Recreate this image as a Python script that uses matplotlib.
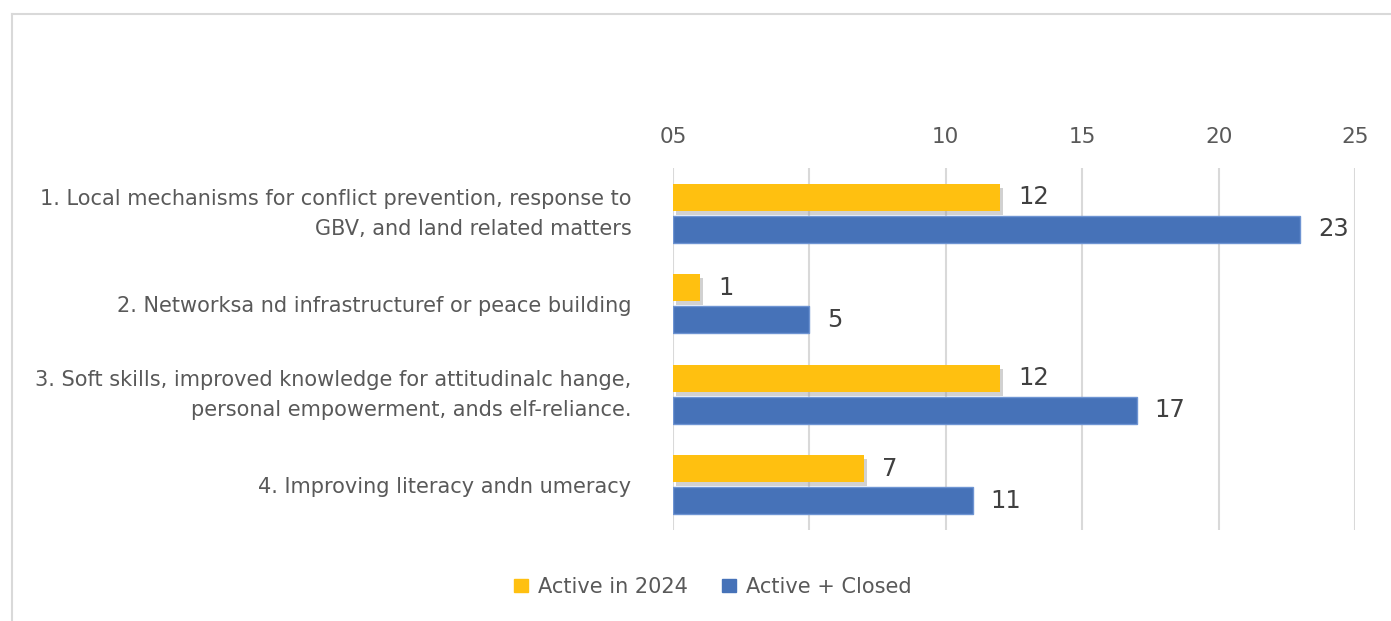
import numpy as np
import matplotlib.pyplot as plt
import matplotlib.patheffects as pe
import matplotlib.transforms as mtransforms
from matplotlib.patches import Patch

categories = [
    "1. Local mechanisms for conflict prevention, response to\nGBV, and land related matters",
    "2. Networksa nd infrastructuref or peace building",
    "3. Soft skills, improved knowledge for attitudinalc hange,\npersonal empowerment, ands elf-reliance.",
    "4. Improving literacy andn umeracy",
]
active_2024 = [12, 1, 12, 7]
active_closed = [23, 5, 17, 11]
tick_values = [0, 5, 10, 15, 20, 25]
tick_labels = ["05", "", "10", "15", "20", "25"]

yellow = "#FFC010"
blue = "#4672B8"
grid_c = "#D9D9D9"
txt_c = "#595959"

plt.rcParams["font.family"] = ["DejaVu Sans"]

fig = plt.figure(figsize=(13.91, 6.21), dpi=100)
ax = fig.add_axes([0.4838, 0.1465, 0.4903, 0.583])

y = np.arange(len(categories))
off = 0.177
h = 0.298

b1 = ax.barh(y - off, active_2024, height=h, color=yellow, zorder=3)
for r in b1:
    r.set_path_effects([pe.SimplePatchShadow(offset=(2, -3), shadow_rgbFace="#999999", alpha=0.45), pe.Normal()])
b2 = ax.barh(y + off, active_closed, height=h, color=blue, edgecolor="#6E94D2", linewidth=1, zorder=3)

for yy, v in zip(y - off, active_2024):
    ax.text(v + 0.65, yy, str(v), va="center", ha="left", fontsize=17.5, color="#404040")
for yy, v in zip(y + off, active_closed):
    ax.text(v + 0.65, yy, str(v), va="center", ha="left", fontsize=17.5, color="#404040")

ax.set_xlim(0, 25)
ax.set_ylim(3.5, -0.5)
ax.set_xticks(tick_values)
ax.set_xticklabels(tick_labels)
ax.xaxis.tick_top()
ax.tick_params(axis="x", length=0, pad=15, labelsize=15.5, labelcolor=txt_c)
ax.set_yticks(y)
ax.set_yticklabels(categories, fontsize=15, color=txt_c, ha="right", linespacing=1.6)
ax.tick_params(axis="y", length=0, pad=30)
# two-line labels sit a little higher in the original
shift_up = mtransforms.ScaledTranslation(0, 0.06, fig.dpi_scale_trans)
for lab in ax.get_yticklabels():
    if "\n" in lab.get_text():
        lab.set_transform(lab.get_transform() + shift_up)
ax.xaxis.grid(True, color=grid_c, linewidth=1.5, zorder=0)
ax.set_axisbelow(True)
for s in ax.spines.values():
    s.set_visible(False)

handles = [Patch(color=yellow, label="Active in 2024"), Patch(color=blue, label="Active + Closed")]
leg = fig.legend(handles=handles, loc="center", bbox_to_anchor=(0.5125, 0.055), ncol=2, frameon=False,
                 fontsize=15, handlelength=0.65, handleheight=0.65, handletextpad=0.5, columnspacing=1.65)
for t in leg.get_texts():
    t.set_color(txt_c)

# chart frame (top and left edges visible)
fig.add_artist(plt.Line2D([0.0087, 1.0], [0.977, 0.977], color="#D9D9D9", linewidth=1.5))
fig.add_artist(plt.Line2D([0.0087, 0.0087], [0.0, 0.977], color="#D9D9D9", linewidth=1.5))

fig.savefig("out.png", dpi=100)
